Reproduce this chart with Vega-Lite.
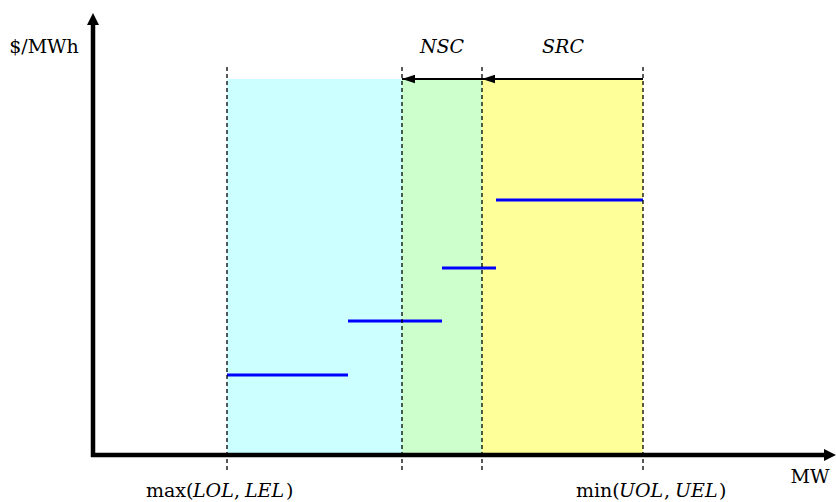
{
  "$schema": "https://vega.github.io/schema/vega-lite/v6.json",
  "width": 836,
  "height": 502,
  "autosize": {"type": "fit", "contains": "padding"},
  "padding": 0,
  "background": "white",
  "config": {"view": {"stroke": null}, "text": {"font": "DejaVu Serif"}},
  "datasets": {
    "zones": [
      {"zone": "below", "mw0": 134, "mw1": 309, "p0": 0, "p1": 376},
      {"zone": "NSC", "mw0": 309, "mw1": 389, "p0": 0, "p1": 376},
      {"zone": "SRC", "mw0": 389, "mw1": 550, "p0": 0, "p1": 376}
    ],
    "limits": [{"mw": 134}, {"mw": 309}, {"mw": 389}, {"mw": 550}],
    "offers": [
      {"mw0": 134, "mw1": 255, "price": 80},
      {"mw0": 255, "mw1": 349, "price": 134},
      {"mw0": 349, "mw1": 403, "price": 187},
      {"mw0": 403, "mw1": 550, "price": 255}
    ],
    "spans": [
      {"name": "SRC", "from": 550, "to": 389, "price": 376},
      {"name": "NSC", "from": 389, "to": 309, "price": 376}
    ],
    "normalText": [
      {"t": "max(", "mw": 53, "price": -42},
      {"t": ",", "mw": 141, "price": -42},
      {"t": ")", "mw": 193, "price": -42},
      {"t": "min(", "mw": 483, "price": -42},
      {"t": ",", "mw": 571, "price": -42},
      {"t": ")", "mw": 626, "price": -42}
    ],
    "italicText": [
      {"t": "LOL", "mw": 100, "price": -42},
      {"t": "LEL", "mw": 152, "price": -42},
      {"t": "UOL", "mw": 526, "price": -42},
      {"t": "UEL", "mw": 582, "price": -42}
    ],
    "titles": [
      {"t": "$/MWh", "mw": -49, "price": 402},
      {"t": "MW", "mw": 717, "price": -28}
    ],
    "spanLabels": [
      {"t": "NSC", "mw": 349, "price": 402},
      {"t": "SRC", "mw": 470, "price": 402}
    ]
  },
  "layer": [
    {
      "data": {"name": "zones"},
      "mark": {"type": "rect"},
      "encoding": {
        "x": {"field": "mw0", "type": "quantitative", "scale": {"domain": [-93, 743], "nice": false, "zero": false}, "axis": null},
        "x2": {"field": "mw1"},
        "y": {"field": "p0", "type": "quantitative", "scale": {"domain": [-47, 455], "nice": false, "zero": false}, "axis": null},
        "y2": {"field": "p1"},
        "color": {"field": "zone", "type": "nominal", "scale": {"domain": ["below", "NSC", "SRC"], "range": ["#CCFFFF", "#CCFFCC", "#FFFF99"]}, "legend": null}
      }
    },
    {
      "data": {"name": "offers"},
      "mark": {"type": "rule", "color": "#0000FF", "strokeWidth": 3},
      "encoding": {
        "x": {"field": "mw0", "type": "quantitative"},
        "x2": {"field": "mw1"},
        "y": {"field": "price", "type": "quantitative"}
      }
    },
    {
      "data": {"name": "limits"},
      "mark": {"type": "rule", "color": "black", "strokeWidth": 1.3, "strokeDash": [4, 3]},
      "encoding": {
        "x": {"field": "mw", "type": "quantitative"},
        "y": {"datum": -15},
        "y2": {"datum": 390}
      }
    },
    {
      "data": {"name": "spans"},
      "mark": {"type": "rule", "color": "black", "strokeWidth": 1.8},
      "encoding": {
        "x": {"field": "from", "type": "quantitative"},
        "x2": {"field": "to"},
        "y": {"field": "price", "type": "quantitative"}
      }
    },
    {
      "data": {"name": "spans"},
      "mark": {"type": "point", "shape": "M0,0L1,-0.32L1,0.32Z", "filled": true, "color": "black", "opacity": 1, "size": 676, "strokeWidth": 0},
      "encoding": {
        "x": {"field": "to", "type": "quantitative"},
        "y": {"field": "price", "type": "quantitative"}
      }
    },
    {
      "data": {"values": [{}]},
      "mark": {"type": "rule", "color": "black", "strokeWidth": 4.5},
      "encoding": {
        "x": {"datum": 0},
        "y": {"datum": -2},
        "y2": {"datum": 432}
      }
    },
    {
      "data": {"values": [{}]},
      "mark": {"type": "rule", "color": "black", "strokeWidth": 4.5},
      "encoding": {
        "y": {"datum": 0},
        "x": {"datum": -2},
        "x2": {"datum": 731}
      }
    },
    {
      "data": {"values": [{}]},
      "mark": {"type": "point", "shape": "M0,0L-0.5,1L0.5,1Z", "filled": true, "color": "black", "opacity": 1, "size": 576, "strokeWidth": 0},
      "encoding": {
        "x": {"datum": 0},
        "y": {"datum": 442}
      }
    },
    {
      "data": {"values": [{}]},
      "mark": {"type": "point", "shape": "M0,0L-1,-0.5L-1,0.5Z", "filled": true, "color": "black", "opacity": 1, "size": 576, "strokeWidth": 0},
      "encoding": {
        "x": {"datum": 743},
        "y": {"datum": 0}
      }
    },
    {
      "data": {"name": "normalText"},
      "mark": {"type": "text", "fontSize": 19, "color": "black", "align": "left", "baseline": "alphabetic"},
      "encoding": {
        "x": {"field": "mw", "type": "quantitative"},
        "y": {"field": "price", "type": "quantitative"},
        "text": {"field": "t"}
      }
    },
    {
      "data": {"name": "italicText"},
      "mark": {"type": "text", "fontStyle": "italic", "fontSize": 19, "color": "black", "align": "left", "baseline": "alphabetic"},
      "encoding": {
        "x": {"field": "mw", "type": "quantitative"},
        "y": {"field": "price", "type": "quantitative"},
        "text": {"field": "t"}
      }
    },
    {
      "data": {"name": "titles"},
      "mark": {"type": "text", "fontSize": 19, "color": "black", "align": "center", "baseline": "alphabetic"},
      "encoding": {
        "x": {"field": "mw", "type": "quantitative"},
        "y": {"field": "price", "type": "quantitative"},
        "text": {"field": "t"}
      }
    },
    {
      "data": {"name": "spanLabels"},
      "mark": {"type": "text", "fontStyle": "italic", "fontSize": 19, "color": "black", "align": "center", "baseline": "alphabetic"},
      "encoding": {
        "x": {"field": "mw", "type": "quantitative"},
        "y": {"field": "price", "type": "quantitative"},
        "text": {"field": "t"}
      }
    }
  ]
}
